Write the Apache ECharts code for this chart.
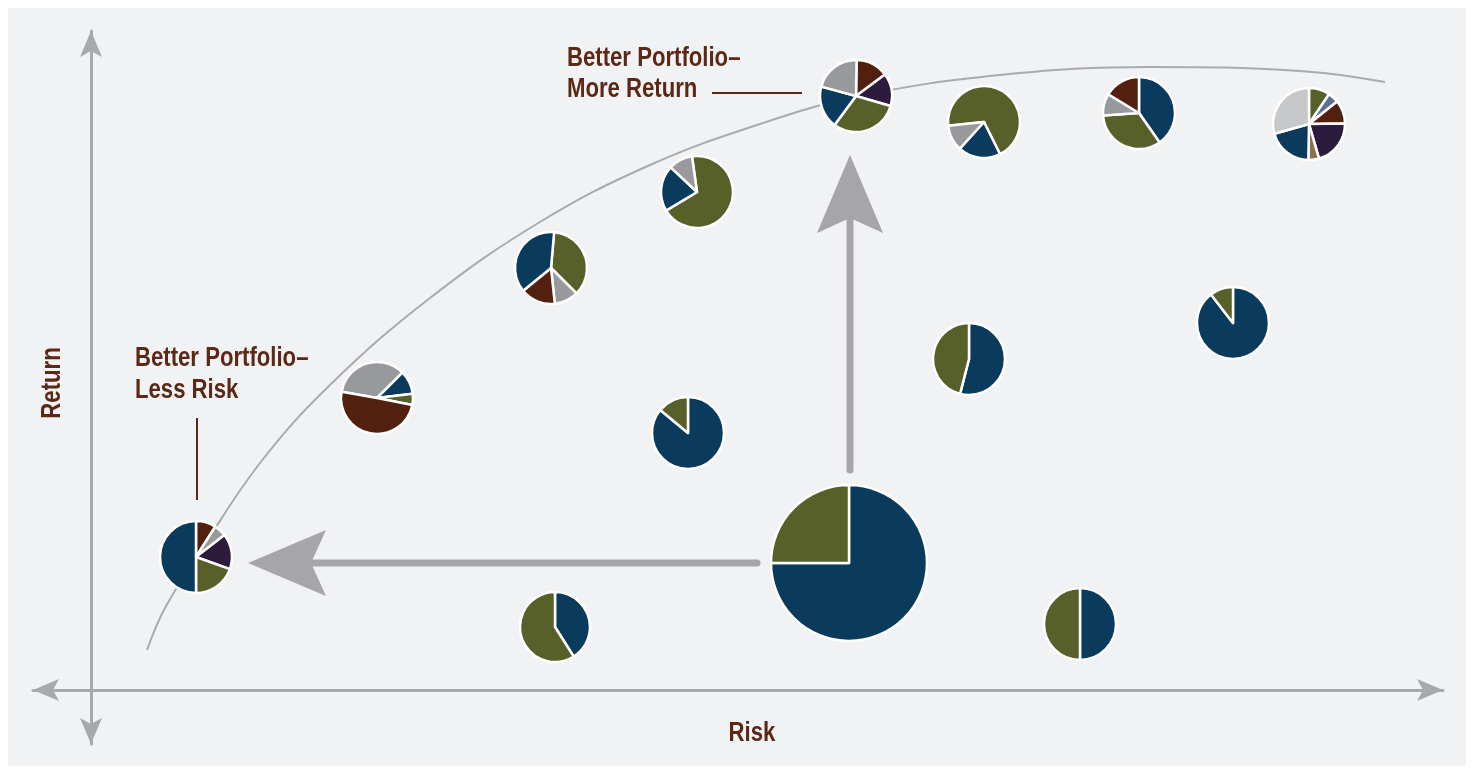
<!DOCTYPE html>
<html>
<head>
<meta charset="utf-8">
<script src="https://cdn.jsdelivr.net/npm/echarts@6/dist/echarts.min.js"></script>
<style>
html,body{margin:0;padding:0;background:#ffffff;}
#panel{position:absolute;left:8px;top:8px;width:1458px;height:758px;background:#f1f2f4;}
#c{position:absolute;left:0;top:0;width:1473px;height:770px;}
</style>
</head>
<body>
<div id="panel"></div>
<div id="c"></div>
<script>
// ---------- data ----------
const assetNames = ['Asset 1', 'Asset 2', 'Asset 3', 'Asset 4', 'Asset 5', 'Asset 6', 'Asset 7', 'Asset 8'];

// efficient frontier curve (risk, return)
const frontierRisk   = [5.6, 7.4, 10.9, 16.9, 23.9, 33.9, 44.9, 55.9, 66.9, 76.9, 90.9, 105.9, 120.9, 129.4];
const frontierReturn = [4.0, 8.2, 13.8, 22.7, 30.5, 39.2, 46.8, 52.5, 56.6, 59.4, 61.5, 62.3, 61.9, 60.8];

// portfolio pies: position (risk, return)
const pieRisk   = [10.5, 28.6, 46.0, 60.6, 76.5, 89.3, 104.8, 121.8, 59.7, 87.8, 114.2, 75.8, 46.4, 98.9];
const pieReturn = [13.3, 29.2, 42.2, 49.8, 59.4, 56.8, 57.7, 56.6, 25.7, 33.1, 36.7, 12.7, 6.3, 6.6];

// slices of each pie, clockwise: [asset index, share %]
const pieSlices = [
  [[2, 9], [4, 5.5], [3, 16], [1, 19.5], [0, 50]],
  [[4, 34.7], [0, 10.6], [1, 5], [2, 49.7]],
  [[1, 36.1], [4, 10.8], [2, 15.8], [0, 37.3]],
  [[1, 68.6], [0, 20.6], [4, 10.8]],
  [[2, 14.6], [3, 14.6], [1, 30.7], [0, 19], [4, 21.1]],
  [[1, 69.3], [0, 19.1], [4, 11.6]],
  [[0, 40.3], [1, 33.6], [4, 9.8], [2, 16.3]],
  [[1, 9.4], [6, 4.9], [2, 10.5], [3, 20.7], [7, 4.8], [0, 20.3], [5, 29.4]],
  [[0, 86], [1, 14]],
  [[0, 54], [1, 46]],
  [[0, 89.5], [1, 10.5]],
  [[0, 75], [1, 25]],
  [[0, 41], [1, 59]],
  [[0, 50], [1, 50]]
];

// ---------- layout / style ----------
const assetColors = ['#0b3b5c', '#566028', '#532010', '#2c1b3d', '#98999c', '#c7c8ca', '#5f6f8e', '#8b7352'];
const pieStartDeg = [0, 280, 5, 352, 1, 264, 0, 0, 0, 0, 0, 0, 0, 0]; // clockwise from 12 o'clock
const pieRadius   = [36, 36, 36, 36, 36, 36, 36, 36, 36, 36, 36, 78, 35, 36];

const moveArrows = [
  { from: [66.6, 12.7], to: [15.7, 12.7] },
  { from: [75.9, 22.0], to: [75.9, 53.5] }
];
const leaderLines = [
  { from: [10.6, 27.2], to: [10.6, 19.0] },
  { from: [62.1, 59.7], to: [71.1, 59.7] }
];

const axisColor = '#a8a9ab';
const arrowColor = '#a6a6a8';
const textColor = '#5a2814';
const FONT = '"Liberation Sans", Arial, sans-serif';
const NARROW = 0.82;

const chart = echarts.init(document.getElementById('c'), null, { renderer: 'canvas' });

const hiddenAxis = (min, max) => ({
  type: 'value', min: min, max: max,
  axisLine: { show: true, onZero: true, lineStyle: { color: axisColor, width: 3 } },
  axisTick: { show: false }, axisLabel: { show: false }, splitLine: { show: false }
});

const frontierSeries = {
  type: 'line',
  data: frontierRisk.map((r, i) => [r, frontierReturn[i]]),
  smooth: 0.4, symbol: 'none', showSymbol: false, silent: true, z: 1,
  lineStyle: { color: '#a9aaac', width: 2 }
};

chart.setOption({
  animation: false,
  grid: { left: 33, right: 30, top: 31, bottom: 26 },
  xAxis: hiddenAxis(-5.8, 135.2),
  yAxis: hiddenAxis(-5.4, 65.9),
  series: [frontierSeries]
});

const toPx = (p) => chart.convertToPixel({ gridIndex: 0 }, p);

// pies
const pieSeries = pieRisk.map((r, i) => ({
  type: 'pie',
  center: toPx([r, pieReturn[i]]),
  radius: pieRadius[i],
  startAngle: ((90 - pieStartDeg[i]) % 360 + 360) % 360,
  clockwise: true,
  silent: true,
  z: 3,
  label: { show: false }, labelLine: { show: false },
  emphasis: { disabled: true },
  itemStyle: { borderColor: '#ffffff', borderWidth: 2.5 },
  data: pieSlices[i].map(([a, v]) => ({ name: assetNames[a], value: v, itemStyle: { color: assetColors[a] } }))
}));

// arrow heads
function head(tip, ux, uy, L, W, N, color) {
  const nx = -uy, ny = ux;
  const bx = tip[0] - ux * L, by = tip[1] - uy * L;
  const notch = [tip[0] - ux * (L - N), tip[1] - uy * (L - N)];
  return { type: 'polygon', z: 20,
    shape: { points: [tip, [bx + nx * W, by + ny * W], notch, [bx - nx * W, by - ny * W]] },
    style: { fill: color } };
}
const graphics = [];
moveArrows.forEach(a => {
  const f = toPx(a.from), t = toPx(a.to);
  const dx = t[0] - f[0], dy = t[1] - f[1], len = Math.hypot(dx, dy);
  const ux = dx / len, uy = dy / len;
  const L = 78, N = 15;
  graphics.push({ type: 'line', z: 19,
    shape: { x1: f[0], y1: f[1], x2: t[0] - ux * (L - N - 3), y2: t[1] - uy * (L - N - 3) },
    style: { stroke: arrowColor, lineWidth: 7, lineCap: 'round' } });
  graphics.push(head(t, ux, uy, L, 33, N, arrowColor));
});
// axis arrow heads
const xl = toPx([-5.8, 0]), xr = toPx([135.2, 0]);
const yt = toPx([0, 65.9]), yb = toPx([0, -5.4]);
graphics.push(head(xl, -1, 0, 26, 11, 6, axisColor));
graphics.push(head(xr, 1, 0, 26, 11, 6, axisColor));
graphics.push(head(yt, 0, -1, 26, 11, 6, axisColor));
graphics.push(head(yb, 0, 1, 26, 11, 6, axisColor));
// leader lines
leaderLines.forEach(l => {
  const f = toPx(l.from), t = toPx(l.to);
  graphics.push({ type: 'line', z: 20, shape: { x1: f[0], y1: f[1], x2: t[0], y2: t[1] },
    style: { stroke: textColor, lineWidth: 2 } });
});
// texts (condensed look via horizontal scale)
function txt(s, x, y, align, rotation) {
  return { type: 'text', z: 25, x: x, y: y, scaleX: NARROW, rotation: rotation || 0,
    style: { text: s, x: 0, y: 0, fill: textColor, font: 'bold 27px ' + FONT,
      textAlign: align || 'left', textVerticalAlign: 'middle', verticalAlign: 'middle' } };
}
graphics.push(txt('Better Portfolio\u2013', 135, 359));
graphics.push(txt('Less Risk', 135, 391));
graphics.push(txt('Better Portfolio\u2013', 567, 59));
graphics.push(txt('More Return', 567, 90));
graphics.push(txt('Risk', 752, 734, 'center'));
graphics.push(txt('Return', 53, 383, 'center', Math.PI / 2));

chart.setOption({ series: [frontierSeries].concat(pieSeries), graphic: { elements: graphics } });
</script>
</body>
</html>
